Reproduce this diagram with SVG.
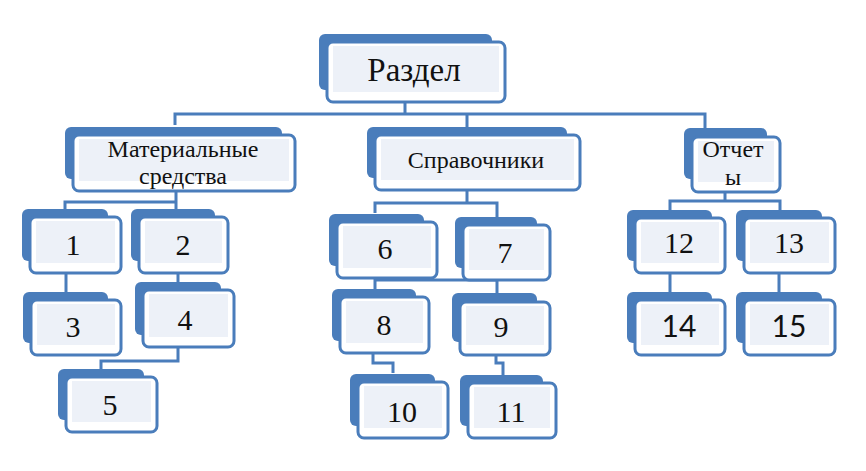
<svg xmlns="http://www.w3.org/2000/svg" width="866" height="471" viewBox="0 0 866 471">
<style>
.bk{fill:#4a7dbb}
.fr{fill:#ffffff;stroke:#4a7dbb;stroke-width:3}
.in{fill:#edf1f8}
.t{font-family:"Liberation Serif","Times New Roman",serif;fill:#111;text-anchor:middle}
.d{font-size:30px}
.s{font-family:Lato,"Liberation Sans",sans-serif;fill:#111;text-anchor:middle;font-size:30px}
.c{fill:none;stroke:#4a7dbb;stroke-width:3}
</style>
<rect width="866" height="471" fill="#ffffff"/>
<g id="connectors" class="c">
<path d="M405,102 V114 M175,125 V114 H705 V128 M467,114 V128"/>
<path d="M176,191 V202 M65,209 V202 H176 V209"/>
<path d="M66,273 V293"/>
<path d="M178,273 V283"/>
<path d="M178,347 V361 H101 V371"/>
<path d="M467,190 V203 M375,213 V203 H497 V218"/>
<path d="M375,278 V290 M375,280 H497 M497,280 V293"/>
<path d="M373,353 V363 H393 V373"/>
<path d="M496,355 V363 H503 V375"/>
<path d="M725,192 V201 M670,211 V201 H780 V211"/>
<path d="M670,273 V293 M779,273 V293"/>
</g>
<g id="root">
<rect class="bk" x="319" y="34" width="173" height="56" rx="6"/>
<rect class="fr" x="327" y="42" width="178" height="60" rx="6"/>
<rect class="in" x="333" y="46" width="166" height="46"/>
<text class="t" x="414" y="81" font-size="33">Раздел</text>
</g>
<g id="materials">
<rect class="bk" x="65" y="127" width="217" height="52" rx="6"/>
<rect class="fr" x="73" y="135" width="222" height="56" rx="6"/>
<rect class="in" x="79" y="139" width="210" height="42"/>
<text class="t" x="183" y="157" font-size="24">Материальные</text>
<text class="t" x="183" y="184" font-size="24">средства</text>
</g>
<g id="reference">
<rect class="bk" x="367" y="127" width="200" height="51" rx="6"/>
<rect class="fr" x="375" y="135" width="205" height="55" rx="6"/>
<rect class="in" x="381" y="139" width="193" height="41"/>
<text class="t" x="476" y="168" font-size="24">Справочники</text>
</g>
<g id="reports">
<rect class="bk" x="684" y="128" width="83" height="51" rx="6"/>
<rect class="fr" x="692" y="137" width="88" height="55" rx="6"/>
<rect class="in" x="698" y="141" width="76" height="41"/>
<text class="t" x="733" y="157" font-size="24">Отчет</text>
<text class="t" x="733" y="185" font-size="24">ы</text>
</g>
<g id="n1">
<rect class="bk" x="22" y="209" width="86" height="52" rx="6"/>
<rect class="fr" x="30" y="217" width="91" height="56" rx="6"/>
<rect class="in" x="36" y="221" width="79" height="42"/>
<text class="t d" x="73" y="255">1</text>
</g>
<g id="n2">
<rect class="bk" x="131" y="209" width="84" height="52" rx="6"/>
<rect class="fr" x="139" y="217" width="89" height="56" rx="6"/>
<rect class="in" x="145" y="221" width="77" height="42"/>
<text class="t d" x="183" y="255">2</text>
</g>
<g id="n3">
<rect class="bk" x="23" y="292" width="85" height="51" rx="6"/>
<rect class="fr" x="31" y="300" width="90" height="55" rx="6"/>
<rect class="in" x="37" y="304" width="78" height="41"/>
<text class="t d" x="73" y="337">3</text>
</g>
<g id="n4">
<rect class="bk" x="135" y="282" width="86" height="53" rx="6"/>
<rect class="fr" x="143" y="290" width="91" height="57" rx="6"/>
<rect class="in" x="149" y="294" width="79" height="43"/>
<text class="t d" x="185" y="330">4</text>
</g>
<g id="n5">
<rect class="bk" x="58" y="369" width="86" height="51" rx="6"/>
<rect class="fr" x="66" y="377" width="91" height="55" rx="6"/>
<rect class="in" x="72" y="381" width="79" height="41"/>
<text class="t d" x="110" y="415">5</text>
</g>
<g id="n6">
<rect class="bk" x="329" y="214" width="95" height="52" rx="6"/>
<rect class="fr" x="337" y="222" width="100" height="56" rx="6"/>
<rect class="in" x="343" y="226" width="88" height="42"/>
<text class="t d" x="385" y="259">6</text>
</g>
<g id="n7">
<rect class="bk" x="455" y="217" width="82" height="51" rx="6"/>
<rect class="fr" x="463" y="225" width="87" height="55" rx="6"/>
<rect class="in" x="469" y="229" width="75" height="41"/>
<text class="t d" x="505" y="263">7</text>
</g>
<g id="n8">
<rect class="bk" x="332" y="289" width="84" height="52" rx="6"/>
<rect class="fr" x="340" y="297" width="89" height="56" rx="6"/>
<rect class="in" x="346" y="301" width="77" height="42"/>
<text class="t d" x="384" y="335">8</text>
</g>
<g id="n9">
<rect class="bk" x="452" y="293" width="85" height="49" rx="6"/>
<rect class="fr" x="460" y="302" width="90" height="53" rx="6"/>
<rect class="in" x="466" y="306" width="78" height="39"/>
<text class="t d" x="501" y="337">9</text>
</g>
<g id="n10">
<rect class="bk" x="350" y="374" width="85" height="52" rx="6"/>
<rect class="fr" x="358" y="382" width="90" height="56" rx="6"/>
<rect class="in" x="364" y="386" width="78" height="42"/>
<text class="t d" x="402" y="422">10</text>
</g>
<g id="n11">
<rect class="bk" x="460" y="375" width="83" height="51" rx="6"/>
<rect class="fr" x="468" y="383" width="88" height="55" rx="6"/>
<rect class="in" x="474" y="387" width="76" height="41"/>
<text class="t d" x="511" y="422">11</text>
</g>
<g id="n12">
<rect class="bk" x="627" y="210" width="85" height="51" rx="6"/>
<rect class="fr" x="635" y="218" width="90" height="55" rx="6"/>
<rect class="in" x="641" y="222" width="78" height="41"/>
<text class="t d" x="679" y="253">12</text>
</g>
<g id="n13">
<rect class="bk" x="736" y="210" width="86" height="51" rx="6"/>
<rect class="fr" x="744" y="218" width="91" height="55" rx="6"/>
<rect class="in" x="750" y="222" width="79" height="41"/>
<text class="t d" x="789" y="253">13</text>
</g>
<g id="n14">
<rect class="bk" x="627" y="292" width="85" height="51" rx="6"/>
<rect class="fr" x="635" y="300" width="90" height="55" rx="6"/>
<rect class="in" x="641" y="304" width="78" height="41"/>
<text class="s" x="679" y="337">14</text>
</g>
<g id="n15">
<rect class="bk" x="736" y="292" width="86" height="51" rx="6"/>
<rect class="fr" x="744" y="300" width="91" height="55" rx="6"/>
<rect class="in" x="750" y="304" width="79" height="41"/>
<text class="s" x="789" y="337">15</text>
</g>
</svg>
